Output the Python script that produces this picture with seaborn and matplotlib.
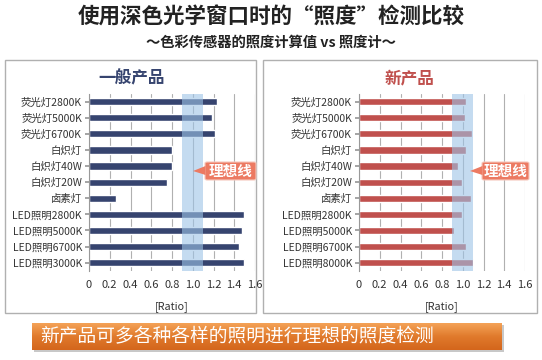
import matplotlib
matplotlib.use("Agg")
import matplotlib.pyplot as plt
import seaborn as sns
import numpy as np
import pandas as pd
from matplotlib.patches import Rectangle, FancyBboxPatch, Polygon
from matplotlib.colors import LinearSegmentedColormap

sns.set_theme(style="white")
plt.rcParams['font.family'] = ['Noto Sans CJK SC', 'DejaVu Sans']

# ---- data ----
cats_left = ["荧光灯2800K", "荧光灯5000K", "荧光灯6700K", "白炽灯", "白炽灯40W", "白炽灯20W",
             "卤素灯", "LED照明2800K", "LED照明5000K", "LED照明6700K", "LED照明3000K"]
cats_right = ["荧光灯2800K", "荧光灯5000K", "荧光灯6700K", "白炽灯", "白炽灯40W", "白炽灯20W",
              "卤素灯", "LED照明2800K", "LED照明5000K", "LED照明6700K", "LED照明8000K"]
vals_general = [1.23, 1.19, 1.21, 0.80, 0.80, 0.75, 0.26, 1.49, 1.47, 1.45, 1.49]
vals_new = [1.03, 1.02, 1.09, 1.03, 0.95, 0.99, 1.08, 0.99, 0.92, 1.03, 1.10]
ideal_low, ideal_high = 0.9, 1.1
xticks = [0, 0.2, 0.4, 0.6, 0.8, 1.0, 1.2, 1.4, 1.6]
xtick_labels = ["0", "0.2", "0.4", "0.6", "0.8", "1.0", "1.2", "1.4", "1.6"]

W, H = 542, 360
fig = plt.figure(figsize=(W / 100, H / 100), dpi=100)
fig.patch.set_facecolor("white")

def fx(px):
    return px / W

def fy(py):
    return 1 - py / H

# panel boxes (outline only, behind axes)
for x0, x1 in [(5, 256), (263, 537)]:
    fig.patches.append(Rectangle((fx(x0), fy(313)), fx(x1 - x0), (313 - 60) / H,
                                 transform=fig.transFigure, facecolor="none",
                                 edgecolor="#b0b0b0", linewidth=1.0, zorder=-1))

# titles
fig.text(0.5, fy(17), "使用深色光学窗口时的“照度”检测比较", ha="center", va="center",
         fontsize=15.5, fontweight="bold", color="#222222")
fig.text(0.5, fy(43), "～色彩传感器的照度计算值 vs 照度计～", ha="center", va="center",
         fontsize=10.3, fontweight="bold", color="#222222")

def draw_panel(left_px, cats, vals, color, title, title_color, title_x):
    ax = fig.add_axes([fx(left_px), fy(270.7), fx(166), (270.7 - 93.6) / H])
    ax.set_zorder(2)
    ax.patch.set_alpha(0)
    df = pd.DataFrame({"cat": cats, "val": vals})
    sns.barplot(data=df, x="val", y="cat", color=color, width=0.45, ax=ax,
                saturation=1, zorder=2)
    ax.axvspan(ideal_low, ideal_high, color="#9dc3e6", alpha=0.6, zorder=3, lw=0)
    ax.set_xlim(0, 1.6)
    ax.set_ylim(len(cats) - 0.5, -0.5)
    ax.set_xticks(xticks)
    ax.set_xticklabels(xtick_labels)
    ax.xaxis.grid(True, color="#b0b0b0", linewidth=0.8, zorder=0)
    ax.set_axisbelow(True)
    for s in ["top", "right", "bottom"]:
        ax.spines[s].set_visible(False)
    ax.spines["left"].set_color("#999999")
    ax.spines["left"].set_linewidth(0.8)
    ax.tick_params(axis="y", which="both", left=True, length=3, color="#999999",
                   labelsize=7.5, labelcolor="#333333", pad=2)
    ax.tick_params(axis="x", bottom=False, labelsize=8, labelcolor="#333333", pad=1)
    ax.set_ylabel("")
    ax.set_xlabel("[Ratio]", fontsize=7.8, color="#333333", labelpad=8)
    fig.text(fx(title_x), fy(78), title, ha="center", va="center",
             fontsize=12, fontweight="bold", color=title_color)
    return ax

draw_panel(89, cats_left, vals_general, "#36446f", "一般产品", "#36446f", 132)
draw_panel(359, cats_right, vals_new, "#c0504d", "新产品", "#c0504d", 410)

# callouts "理想线"
def callout(x0, x1, tip_x):
    y0, y1 = 162, 180
    fig.patches.append(FancyBboxPatch((fx(x0), fy(y1)), fx(x1 - x0), (y1 - y0) / H,
                                      boxstyle="round,pad=0,rounding_size=0.004",
                                      transform=fig.transFigure, facecolor="#ec7a62",
                                      edgecolor="#f6c9bd", linewidth=0.8, zorder=5))
    fig.patches.append(Polygon([(fx(x0 + 0.5), fy(166)), (fx(tip_x), fy(171)),
                                (fx(x0 + 0.5), fy(175))], closed=True,
                               transform=fig.transFigure, facecolor="#ec7a62",
                               edgecolor="none", zorder=5))
    fig.text(fx((x0 + x1) / 2), fy(171), "理想线", ha="center", va="center",
             fontsize=10.5, fontweight="bold", color="white", zorder=6)

callout(205, 256, 193)
callout(482, 529, 470)

# bottom banner
fig.patches.append(Rectangle((fx(34), fy(352)), fx(470), 27 / H, transform=fig.transFigure,
                             facecolor="#c8c8c8", edgecolor="none", zorder=1))
bax = fig.add_axes([fx(32), fy(350), fx(470), 27 / H])
bax.set_zorder(4)
grad = np.linspace(0, 1, 50).reshape(-1, 1)
cmap = LinearSegmentedColormap.from_list("og", ["#f4a257", "#e07a2c", "#d4661c"])
bax.imshow(grad, aspect="auto", cmap=cmap, extent=[0, 1, 0, 1], origin="upper")
bax.set_axis_off()
bax.text(0.018, 0.5, "新产品可多各种各样的照明进行理想的照度检测", ha="left", va="center",
         fontsize=13.5, color="white", transform=bax.transAxes)

fig.savefig("out.png", dpi=100)
